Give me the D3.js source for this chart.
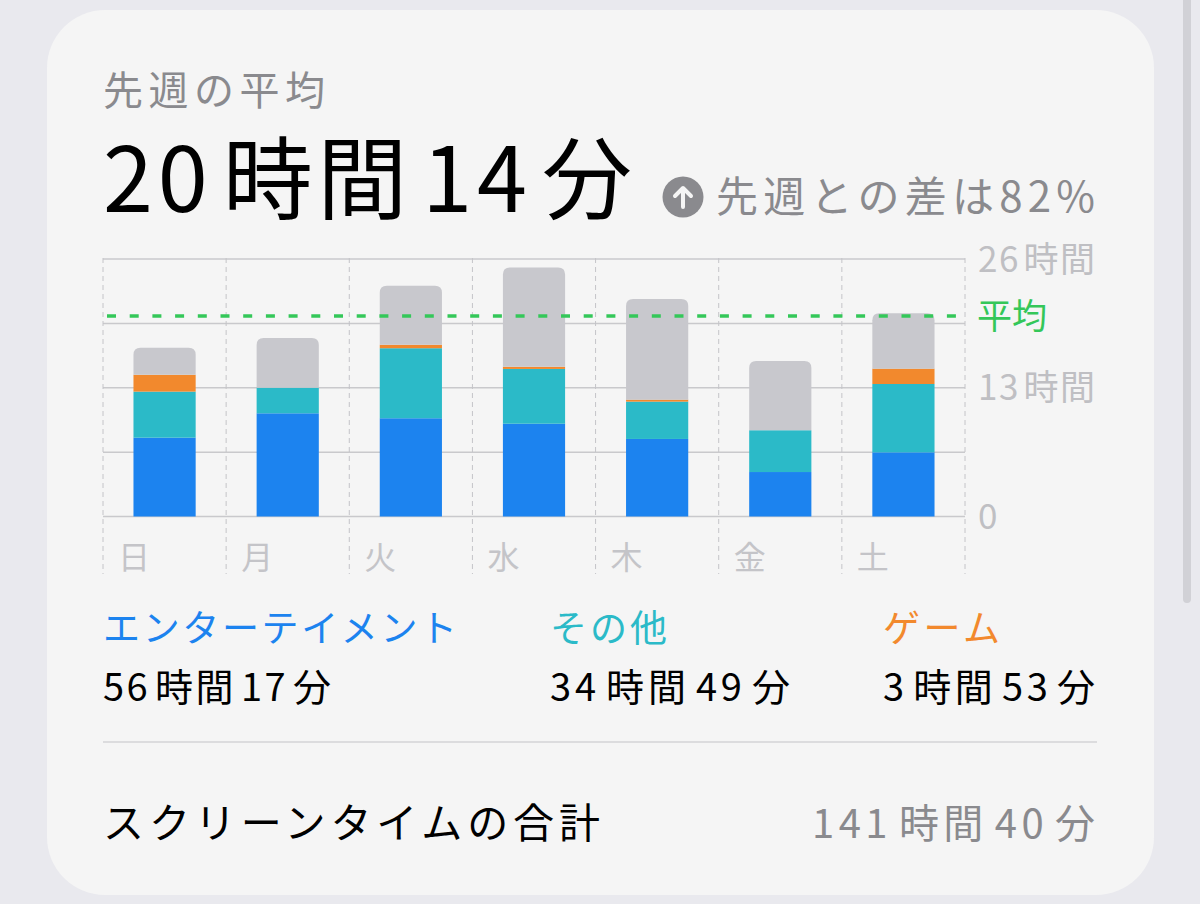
<!DOCTYPE html>
<html>
<head>
<meta charset="utf-8">
<script src="https://cdn.jsdelivr.net/npm/d3@7"></script>
<style>
  body { margin: 0; background: #e9e9ee; }
  svg { display: block; font-family: "Noto Sans CJK JP", "Noto Sans", sans-serif; }
</style>
</head>
<body>
<div id="chart"></div>
<script>
// values (hours per day)
const days = ["日", "月", "火", "水", "木", "金", "土"];
const entertainment = [7.96, 10.42, 9.92, 9.37, 7.83, 4.49, 6.48];
const other = [4.65, 2.59, 7.07, 5.53, 3.77, 4.22, 6.90];
const games = [1.70, 0, 0.35, 0.22, 0.20, 0, 1.55];
const rest = [2.74, 5.02, 5.97, 10.01, 10.17, 7.00, 5.60];
const seriesKeys = ["entertainment", "other", "games", "rest"];
const yTicks = [26, 13, 0];
const gridValues = [0, 6.5, 13, 19.5, 26];
const average = 20 + 14 / 60;

const legendNames = ["エンターテイメント", "その他", "ゲーム"];
const legendValues = ["56\u200a時間\u200a17\u200a分", "34\u200a時間\u200a49\u200a分", "3\u200a時間\u200a53\u200a分"];

const colors = {
  entertainment: "#1c83ef",
  other: "#2bbac8",
  games: "#f2892d",
  rest: "#c8c8cd"
};

const W = 1200, H = 904;
const svg = d3.select("#chart").append("svg")
  .attr("width", W)
  .attr("height", H);

// card + scroll indicator
svg.append("rect").attr("x", 47).attr("y", 10).attr("width", 1107).attr("height", 885)
  .attr("rx", 58).attr("fill", "#f5f5f5");
svg.append("rect").attr("x", 1183).attr("y", -10).attr("width", 8).attr("height", 613)
  .attr("rx", 4).attr("fill", "#d1d1d6");

// header
svg.append("text").attr("x", 103).attr("y", 105)
  .attr("font-size", 40).attr("fill", "#8a8a8e")
  .attr("textLength", 222).attr("lengthAdjust", "spacing")
  .text("先週の平均");

svg.append("text").attr("x", 103).attr("y", 212)
  .attr("font-size", 90).attr("fill", "#000")
  .attr("textLength", 529).attr("lengthAdjust", "spacing")
  .text("20\u200a時間\u200a14\u200a分");

const icon = svg.append("g").attr("transform", "translate(683,197)");
icon.append("circle").attr("r", 20.5).attr("fill", "#8a8a8e");
icon.append("path").attr("d", "M0,10 V-9 M-8,-1 L0,-9 L8,-1")
  .attr("fill", "none").attr("stroke", "#f5f5f5").attr("stroke-width", 4)
  .attr("stroke-linecap", "round").attr("stroke-linejoin", "round");

svg.append("text").attr("x", 716).attr("y", 212)
  .attr("font-size", 42).attr("fill", "#8a8a8e")
  .attr("textLength", 379).attr("lengthAdjust", "spacing")
  .text("先週との差は82%");

// chart
const x = d3.scaleBand().domain(days).range([103, 965]).padding(0);
const y = d3.scaleLinear().domain([0, 26]).range([516.5, 259]);

const data = days.map((d, i) => ({
  day: d,
  entertainment: entertainment[i],
  other: other[i],
  games: games[i],
  rest: rest[i]
}));
const stacked = d3.stack().keys(seriesKeys)(data);

// horizontal grid
svg.append("g").selectAll("line").data(gridValues).join("line")
  .attr("x1", 103).attr("x2", 965)
  .attr("y1", d => y(d)).attr("y2", d => y(d))
  .attr("stroke", "#c9c9cc").attr("stroke-width", 1.5);

// vertical dashed separators
const sepX = days.map(d => x(d)).concat([x.range()[1]]);
svg.append("g").selectAll("line").data(sepX).join("line")
  .attr("x1", d => d).attr("x2", d => d)
  .attr("y1", 258).attr("y2", 574)
  .attr("stroke", "#c4c4c8").attr("stroke-width", 1)
  .attr("stroke-dasharray", "5,4");

// bars
const barW = x.bandwidth() * 0.505;
const r = 7;
const barX = d => x(d.data.day) + (x.bandwidth() - barW) / 2;

stacked.forEach(layer => {
  const g = svg.append("g").attr("fill", colors[layer.key]);
  if (layer.key === "rest") {
    g.selectAll("path").data(layer).join("path")
      .attr("d", d => {
        const x0 = barX(d), x1 = x0 + barW, yt = y(d[1]), yb = y(d[0]);
        return `M${x0},${yb} V${yt + r} Q${x0},${yt} ${x0 + r},${yt} H${x1 - r} Q${x1},${yt} ${x1},${yt + r} V${yb} Z`;
      });
  } else {
    g.selectAll("rect").data(layer.filter(d => d[1] - d[0] > 0)).join("rect")
      .attr("x", barX)
      .attr("width", barW)
      .attr("y", d => y(d[1]))
      .attr("height", d => y(d[0]) - y(d[1]));
  }
});

// average line
svg.append("line")
  .attr("x1", 103).attr("x2", 965)
  .attr("y1", y(average)).attr("y2", y(average))
  .attr("stroke", "#34c759").attr("stroke-width", 3.5)
  .attr("stroke-dasharray", "9,13.7")
  .attr("stroke-dashoffset", -4);

// right axis labels
svg.append("g").selectAll("text").data(yTicks).join("text")
  .attr("x", 978).attr("y", d => y(d))
  .attr("dy", "0.36em")
  .attr("font-size", 35).attr("fill", "#bfbfc3")
  .attr("textLength", d => d === 0 ? null : 117).attr("lengthAdjust", "spacing")
  .text(d => d === 0 ? "0" : d + "\u200a時間");

svg.append("text").attr("x", 977).attr("y", y(average)).attr("dy", "0.36em")
  .attr("font-size", 35).attr("fill", "#34c759")
  .text("平均");

// day labels
svg.append("g").selectAll("text").data(days).join("text")
  .attr("x", d => x(d) + 15).attr("y", 569)
  .attr("font-size", 32).attr("fill", "#c4c4c8")
  .text(d => d);

// legend
const legendX = [103, 550, 883];
const legendColors = [colors.entertainment, colors.other, colors.games];
const nameLen = [354, 117, 117];
const valueLen = [228, 240, 212];
legendNames.forEach((n, i) => {
  svg.append("text").attr("x", legendX[i]).attr("y", 642)
    .attr("font-size", 37).attr("fill", legendColors[i])
    .attr("textLength", nameLen[i]).attr("lengthAdjust", "spacing")
    .text(n);
  svg.append("text").attr("x", legendX[i]).attr("y", 701)
    .attr("font-size", 38).attr("fill", "#000")
    .attr("textLength", valueLen[i]).attr("lengthAdjust", "spacing")
    .text(legendValues[i]);
});

svg.append("line").attr("x1", 103).attr("x2", 1097).attr("y1", 742).attr("y2", 742)
  .attr("stroke", "#dcdcde").attr("stroke-width", 2);

svg.append("text").attr("x", 103).attr("y", 838)
  .attr("font-size", 41).attr("fill", "#000")
  .attr("textLength", 497).attr("lengthAdjust", "spacing")
  .text("スクリーンタイムの合計");

svg.append("text").attr("x", 812).attr("y", 838)
  .attr("font-size", 40).attr("fill", "#8a8a8e")
  .attr("textLength", 283).attr("lengthAdjust", "spacing")
  .text("141\u200a時間\u200a40\u200a分");
</script>
</body>
</html>
